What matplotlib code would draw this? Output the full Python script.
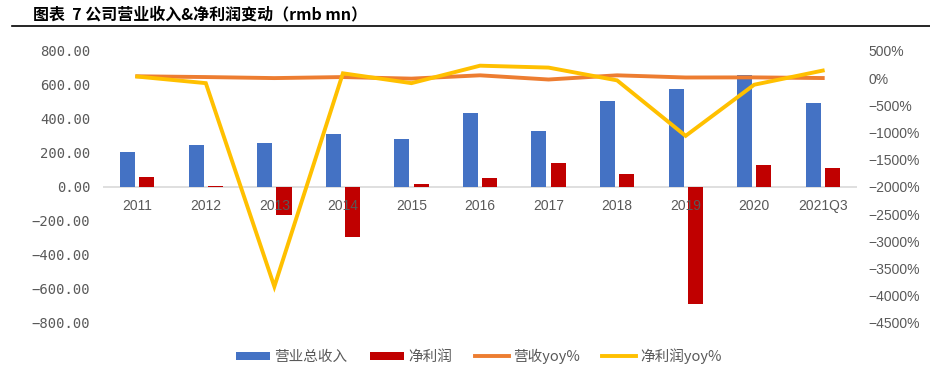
import matplotlib
matplotlib.use("Agg")
import matplotlib.pyplot as plt
import numpy as np

plt.rcParams['font.family'] = ['Noto Sans CJK SC', 'DejaVu Sans']

# data
years = ["2011", "2012", "2013", "2014", "2015", "2016", "2017", "2018", "2019", "2020", "2021Q3"]
revenue = [207, 250, 256, 309, 283, 433, 330, 506, 574, 658, 492]
net_profit = [61, 5, -166, -296, 18, 51, 141, 74, -691, 131, 109]
rev_yoy = [35, 21, 2, 21, -8, 53, -24, 53, 13, 15, 3]
profit_yoy = [30, -91, -3830, 90, -91, 230, 195, -40, -1060, -120, 140]

left_ticks = [-800, -600, -400, -200, 0, 200, 400, 600, 800]
right_ticks = [-4500, -4000, -3500, -3000, -2500, -2000, -1500, -1000, -500, 0, 500]

BLUE = "#4472C4"
RED = "#C00000"
ORANGE = "#ED7D31"
YELLOW = "#FFC000"
GREY = "#595959"

fig = plt.figure(figsize=(9.3, 3.65), dpi=100)

# title + rule under it
fig.text(33 / 930, 1 - 14 / 365, "图表  7 公司营业收入&净利润变动（rmb mn）",
         fontsize=11.5, fontweight="bold", va="center", ha="left", color="black")
fig.add_artist(plt.Line2D([12 / 930, 1.0], [1 - 26.3 / 365] * 2, color="black", lw=1.2))

ax = fig.add_axes([103 / 930, 1 - 323 / 365, (857 - 103) / 930, (323 - 51) / 365])
x = np.arange(len(years))
w = 0.22
ax.bar(x - 0.14, revenue, w, color=BLUE, label="营业总收入", zorder=2)
ax.bar(x + 0.14, net_profit, w, color=RED, label="净利润", zorder=2)
ax.axhline(0, color="#D9D9D9", lw=1.2, zorder=1)

ax.set_xlim(-0.5, len(years) - 0.5)
ax.set_ylim(-800, 800)
ax.set_yticks(left_ticks)
ax.set_yticklabels([("%.2f" % v).replace("-", "\u2212") for v in left_ticks],
                   family=["DejaVu Sans Mono"], fontsize=10, color=GREY)
ax.set_xticks([])
# category labels sit just under the zero line
for i, y in enumerate(years):
    ax.text(i, -68, y, ha="center", va="top", fontsize=10, color=GREY,
            family=["Liberation Sans"], zorder=3)
for s in ax.spines.values():
    s.set_visible(False)
ax.tick_params(axis="y", length=0, pad=9)

ax2 = ax.twinx()
ax2.plot(x, rev_yoy, color=ORANGE, lw=2.8, label="营收yoy%", solid_joinstyle="miter", clip_on=False)
ax2.plot(x, profit_yoy, color=YELLOW, lw=2.8, label="净利润yoy%", solid_joinstyle="miter", clip_on=False)
ax2.set_ylim(-4500, 500)
ax2.set_yticks(right_ticks)
ax2.set_yticklabels([("%d%%" % v).replace("-", "\u2212") for v in right_ticks],
                    family=["Liberation Sans"], fontsize=10, color=GREY)
for s in ax2.spines.values():
    s.set_visible(False)
ax2.tick_params(axis="y", length=0, pad=8)

h1, l1 = ax.get_legend_handles_labels()
h2, l2 = ax2.get_legend_handles_labels()
leg = fig.legend(h1 + h2, l1 + l2, loc="center", bbox_to_anchor=(479 / 930, 1 - 356 / 365),
                 ncol=4, frameon=False, fontsize=10.5, handlelength=2.33, handleheight=0.45,
                 handletextpad=0.27, columnspacing=1.57, borderaxespad=0, borderpad=0)
for t in leg.get_texts():
    t.set_color(GREY)

fig.savefig("out.png", dpi=100)
